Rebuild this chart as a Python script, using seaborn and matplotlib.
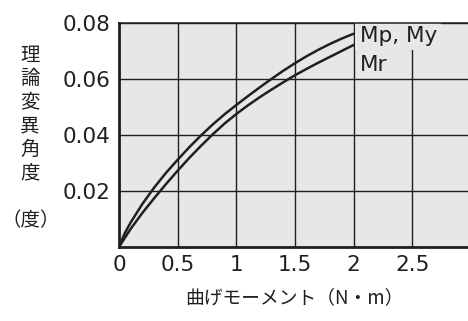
import pandas as pd
import matplotlib
matplotlib.use("Agg")
import matplotlib.pyplot as plt
import seaborn as sns

# bending moment (N·m) and theoretical deflection angle (deg)
moment = [0, 0.05, 0.1, 0.2, 0.3, 0.4, 0.5, 0.6, 0.7, 0.8, 0.9, 1.0,
          1.1, 1.2, 1.3, 1.4, 1.5, 1.6, 1.7, 1.8, 1.9, 2.0]
angle_mp_my = [0, 0.0050, 0.0088, 0.0154, 0.0212, 0.0264, 0.0311, 0.0356, 0.0398, 0.0437, 0.0473,
               0.0506, 0.0538, 0.0569, 0.0599, 0.0628, 0.0655, 0.0680, 0.0703, 0.0724, 0.0743, 0.0760]
angle_mr = [0, 0.0033, 0.0065, 0.0122, 0.0174, 0.0224, 0.0272, 0.0318, 0.0361, 0.0402, 0.0440,
            0.0474, 0.0505, 0.0534, 0.0561, 0.0587, 0.0612, 0.0635, 0.0657, 0.0678, 0.0699, 0.0720]
series_names = ["Mp, My", "Mr"]
x_ticks = [0, 0.5, 1, 1.5, 2, 2.5]
x_ticklabels = ["0", "0.5", "1", "1.5", "2", "2.5"]
y_ticks = [0.02, 0.04, 0.06, 0.08]
y_ticklabels = ["0.02", "0.04", "0.06", "0.08"]
ylabel_chars = ["理", "論", "変", "異", "角", "度"]
ylabel_unit = "（度）"
xlabel = "曲げモーメント（N・m）"

df = pd.concat([
    pd.DataFrame({"moment": moment, "angle": angle_mp_my, "series": series_names[0]}),
    pd.DataFrame({"moment": moment, "angle": angle_mr, "series": series_names[1]}),
])

GREY = "#e6e7e9"
INK = "#231f20"

sns.set_style("whitegrid", {"axes.facecolor": GREY, "grid.color": INK,
                            "axes.edgecolor": INK})
plt.rcParams["font.family"] = ["DejaVu Sans", "Noto Sans CJK JP"]

fig = plt.figure(figsize=(4.68, 3.21), dpi=100)
ax = fig.add_axes([0.2543, 0.2305, 0.752, 0.6994])

sns.lineplot(data=df, x="moment", y="angle", hue="series",
             palette=[INK, INK], linewidth=1.8, legend=False, ax=ax)

ax.set_xlim(0, 3)
ax.set_ylim(0, 0.08)
ax.set_xticks(x_ticks)
ax.set_xticklabels(x_ticklabels)
ax.set_yticks(y_ticks)
ax.set_yticklabels(y_ticklabels)
ax.tick_params(length=0, labelsize=15.5, colors=INK)
ax.tick_params(axis="x", pad=6)
ax.tick_params(axis="y", pad=6)
ax.grid(True, color=INK, linewidth=1.0)
ax.set_xlabel("")
ax.set_ylabel("")
for side in ["left", "bottom"]:
    ax.spines[side].set_linewidth(2.0)
ax.spines["top"].set_linewidth(1.1)
ax.spines["right"].set_visible(False)

# curve labels at the end of each line (box hides the grid, not the frame)
ax.text(2.05, angle_mp_my[-1] - 0.0028, series_names[0], fontsize=15.5, color=INK,
        ha="left", va="baseline", zorder=2.3, clip_on=True,
        bbox=dict(facecolor=GREY, edgecolor="none", pad=3))
ax.text(2.05, angle_mr[-1] - 0.0093, series_names[1], fontsize=15.5, color=INK,
        ha="left", va="baseline", zorder=2.3, clip_on=True,
        bbox=dict(facecolor=GREY, edgecolor="none", pad=1.5))

cjk = "Noto Sans CJK JP"
for i, ch in enumerate(ylabel_chars):
    fig.text(30 / 468, 1 - (55 + 23.5 * i) / 321, ch, family=cjk, fontsize=14,
             color=INK, ha="center", va="center")
fig.text(31 / 468, 1 - 221 / 321, ylabel_unit, family=cjk, fontsize=14,
         color=INK, ha="center", va="center")
fig.text(294 / 468, 1 - 298 / 321, xlabel, family=cjk, fontsize=13.5,
         color=INK, ha="center", va="center")

fig.savefig("out.png", dpi=100)
plt.close(fig)
